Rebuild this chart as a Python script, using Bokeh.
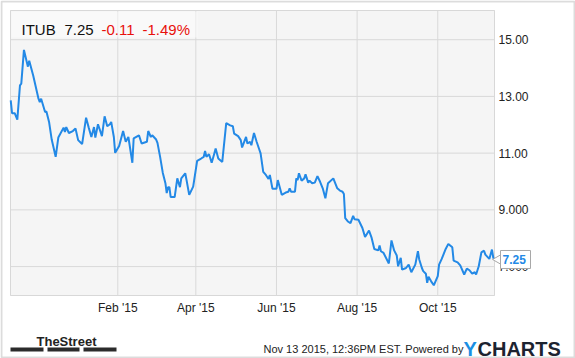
import math
import pandas as pd
from bokeh.plotting import figure
from bokeh.models import (Range1d, FixedTicker, Label, BoxAnnotation,
                          LinearAxis, DatetimeAxis)
from bokeh.core.properties import value
from bokeh.embed import file_html
from bokeh.resources import INLINE

# ---------------- data ----------------
dates = [
    "2014-11-12", "2014-11-13", "2014-11-15", "2014-11-17", "2014-11-19", "2014-11-20", "2014-11-22", "2014-11-25", "2014-11-26", "2014-11-29",
    "2014-12-03", "2014-12-04", "2014-12-05", "2014-12-08", "2014-12-09", "2014-12-11", "2014-12-13", "2014-12-16", "2014-12-18", "2014-12-22",
    "2014-12-23", "2014-12-24", "2014-12-26", "2014-12-29", "2014-12-31", "2015-01-02", "2015-01-05", "2015-01-08", "2015-01-10", "2015-01-12",
    "2015-01-14", "2015-01-15", "2015-01-17", "2015-01-20", "2015-01-22", "2015-01-24", "2015-01-26", "2015-01-27", "2015-01-29", "2015-01-30",
    "2015-02-02", "2015-02-05", "2015-02-07", "2015-02-09", "2015-02-12", "2015-02-13", "2015-02-17", "2015-02-19", "2015-02-23", "2015-02-24",
    "2015-02-26", "2015-02-27", "2015-03-02", "2015-03-03", "2015-03-05", "2015-03-07", "2015-03-09", "2015-03-10", "2015-03-11", "2015-03-12",
    "2015-03-13", "2015-03-16", "2015-03-18", "2015-03-20", "2015-03-21", "2015-03-24", "2015-03-25", "2015-03-27", "2015-03-30", "2015-04-02",
    "2015-04-05", "2015-04-07", "2015-04-08", "2015-04-09", "2015-04-11", "2015-04-13", "2015-04-15", "2015-04-16", "2015-04-18", "2015-04-21",
    "2015-04-24", "2015-04-27", "2015-04-29", "2015-04-30", "2015-05-03", "2015-05-05", "2015-05-06", "2015-05-09", "2015-05-10", "2015-05-12",
    "2015-05-13", "2015-05-15", "2015-05-17", "2015-05-19", "2015-05-20", "2015-05-22", "2015-05-24", "2015-05-26", "2015-05-27", "2015-05-29",
    "2015-06-01", "2015-06-02", "2015-06-05", "2015-06-08", "2015-06-10", "2015-06-11", "2015-06-12", "2015-06-15", "2015-06-16", "2015-06-17",
    "2015-06-18", "2015-06-20", "2015-06-22", "2015-06-23", "2015-06-25", "2015-06-26", "2015-06-28", "2015-06-30", "2015-07-02", "2015-07-04",
    "2015-07-06", "2015-07-08", "2015-07-10", "2015-07-14", "2015-07-17", "2015-07-19", "2015-07-21", "2015-07-22", "2015-07-23", "2015-07-25",
    "2015-07-27", "2015-07-29", "2015-07-30", "2015-08-02", "2015-08-05", "2015-08-07", "2015-08-10", "2015-08-12", "2015-08-14", "2015-08-17",
    "2015-08-18", "2015-08-19", "2015-08-21", "2015-08-25", "2015-08-27", "2015-08-29", "2015-08-31", "2015-09-01", "2015-09-03", "2015-09-04",
    "2015-09-07", "2015-09-09", "2015-09-11", "2015-09-14", "2015-09-16", "2015-09-17", "2015-09-19", "2015-09-20", "2015-09-22", "2015-09-23",
    "2015-09-24", "2015-09-26", "2015-09-28", "2015-10-01", "2015-10-02", "2015-10-04", "2015-10-07", "2015-10-09", "2015-10-12", "2015-10-13",
    "2015-10-16", "2015-10-18", "2015-10-21", "2015-10-23", "2015-10-25", "2015-10-27", "2015-10-29", "2015-10-30", "2015-11-01", "2015-11-03",
    "2015-11-05", "2015-11-06", "2015-11-09", "2015-11-11", "2015-11-12", "2015-11-13",
]
prices = [
    12.86, 12.41, 12.41, 12.18, 13.39, 13.45, 14.64, 14.05, 14.26, 13.74,
    12.92, 12.80, 12.92, 12.45, 12.47, 12.10, 11.48, 10.87, 11.55, 11.90,
    11.75, 11.92, 11.71, 11.78, 11.87, 11.46, 11.32, 12.25, 11.90, 11.57,
    11.92, 11.55, 12.02, 11.60, 12.30, 11.95, 12.02, 12.10, 11.57, 11.01,
    11.25, 11.78, 11.40, 11.57, 10.66, 11.52, 11.63, 11.34, 11.40, 11.78,
    11.57, 11.63, 11.48, 11.36, 10.87, 10.31, 9.94, 9.59, 9.80, 9.80,
    9.45, 9.45, 10.11, 9.80, 10.11, 10.29, 10.05, 9.53, 9.82, 10.73,
    10.81, 10.87, 11.08, 10.87, 10.96, 10.66, 10.99, 11.16, 10.81, 10.69,
    12.06, 11.98, 11.95, 11.69, 11.60, 11.46, 11.20, 11.57, 11.34, 11.40,
    11.28, 11.71, 11.40, 11.13, 10.99, 10.34, 10.23, 10.09, 10.23, 9.74,
    9.74, 10.05, 9.53, 9.61, 9.64, 9.76, 9.64, 9.64, 10.11, 10.05,
    10.29, 10.03, 10.11, 10.25, 9.96, 10.03, 9.94, 9.96, 10.19, 9.99,
    9.76, 9.41, 9.94, 10.11, 9.76, 9.68, 9.64, 9.56, 8.71, 8.59,
    8.53, 8.79, 8.67, 8.65, 8.36, 8.04, 8.27, 8.01, 7.62, 7.57,
    7.74, 7.54, 7.48, 7.11, 7.92, 7.57, 7.39, 7.01, 7.31, 6.89,
    6.95, 7.07, 6.80, 7.07, 7.54, 7.25, 6.95, 6.84, 6.75, 6.43,
    6.64, 6.48, 6.34, 6.66, 7.07, 7.27, 7.62, 7.80, 7.68, 7.21,
    7.15, 7.04, 6.72, 6.93, 6.87, 6.75, 6.80, 6.72, 7.01, 7.50,
    7.56, 7.42, 7.27, 7.60, 7.31, 7.25,
]
ticker_symbol = "ITUB"
last_price = 7.25
last_price_text = "7.25"
change_text = "-0.11"
change_pct_text = "-1.49%"
y_ticks = [7, 9, 11, 13, 15]
y_tick_labels = ["7.000", "9.000", "11.00", "13.00", "15.00"]
x_tick_dates = ["2015-02-01", "2015-04-01", "2015-06-01", "2015-08-01", "2015-10-01"]
x_tick_labels = ["Feb '15", "Apr '15", "Jun '15", "Aug '15", "Oct '15"]
x_start, x_end = "2014-11-11 20:00", "2015-11-12 22:00"
y_start, y_end = 5.98, 16.03
timestamp_text = "Nov 13 2015, 12:36PM EST. Powered by"
brand_left = "TheStreet"
brand_y = "Y"
brand_rest = "CHARTS"

# ---------------- layout constants ----------------
W, H = 575, 358
CL, CR, CT, CB = 10, 494, 10, 295   # chart area edges in canvas pixels
FONT = "Liberation Sans"
LINE_BLUE = "#2389e6"
RED = "#e8100c"
GRID = "#d9d9d9"
FRAME_GRAY = "#8c8c8c"
TAG_GRAY = "#a8a8a8"


def ms(s):
    return pd.Timestamp(s).value / 1e6


xs_ms, xe_ms = ms(x_start), ms(x_end)
x_per_px = (xe_ms - xs_ms) / (CR - CL)
y_per_px = (y_end - y_start) / (CB - CT)
full_x = (xs_ms - CL * x_per_px, xe_ms + (W - CR) * x_per_px)
full_y = (y_start - (H - CB) * y_per_px, y_end + CT * y_per_px)

x_vals = [ms(d) for d in dates]
x_tick_ms = [ms(d) for d in x_tick_dates]

p = figure(
    width=W, height=H, x_axis_type=None, y_axis_type=None,
    x_range=Range1d(*full_x), y_range=Range1d(*full_y),
    output_backend="svg", toolbar_location=None,
    min_border=0,
)
p.background_fill_color = "white"
p.border_fill_color = "white"
p.outline_line_color = None
p.grid.visible = False

# chart area background
p.add_layout(BoxAnnotation(left=xs_ms, right=xe_ms, bottom=y_start, top=y_end,
                           fill_color="#f5f5f5", fill_alpha=1.0,
                           line_color=None, level="underlay"))

# grid lines from the tick arrays
p.segment(x0=x_tick_ms, x1=x_tick_ms, y0=[y_start] * len(x_tick_ms), y1=[y_end] * len(x_tick_ms),
          line_color=GRID, line_width=1)
p.segment(x0=[xs_ms] * len(y_ticks), x1=[xe_ms] * len(y_ticks), y0=y_ticks, y1=y_ticks,
          line_color=GRID, line_width=1)

# chart area border
p.add_layout(BoxAnnotation(left=xs_ms, right=xe_ms, bottom=y_start, top=y_end,
                           fill_alpha=0.0, line_color=FRAME_GRAY, line_width=1,
                           level="underlay"))

# axes at fixed locations (labels only)
xaxis = DatetimeAxis(fixed_location=y_start)
xaxis.ticker = FixedTicker(ticks=x_tick_ms)
xaxis.major_label_overrides = dict(zip(x_tick_ms, x_tick_labels))
yaxis = LinearAxis(fixed_location=xe_ms)
yaxis.ticker = FixedTicker(ticks=y_ticks)
yaxis.major_label_overrides = dict(zip(y_ticks, y_tick_labels))
for ax in (xaxis, yaxis):
    ax.axis_line_color = None
    ax.major_tick_line_color = None
    ax.minor_tick_line_color = None
    ax.major_tick_in = 0
    ax.major_tick_out = 0
    ax.major_label_text_font = FONT
    ax.major_label_text_font_size = "12px"
    ax.major_label_text_color = "#222222"
xaxis.major_label_standoff = 5
yaxis.major_label_standoff = 4
p.add_layout(xaxis, "below")
p.add_layout(yaxis, "right")

# price line
p.line(x_vals, prices, line_color=LINE_BLUE, line_width=2)

# last price tag: pointer + box + text (overlay level, above the axis labels)
p.scatter(x=[xe_ms + 5 * x_per_px], y=[last_price], marker="triangle", angle=math.pi / 2,
          size=12, fill_color="white", line_color=TAG_GRAY, line_width=1, level="overlay")
p.quad(left=[xe_ms + 6 * x_per_px], right=[xe_ms + 36 * x_per_px],
       bottom=[last_price - 9 * y_per_px], top=[last_price + 9 * y_per_px],
       fill_color="white", line_color=TAG_GRAY, line_width=1, level="overlay")
p.text(x=[xe_ms + 8 * x_per_px], y=[last_price], text=[last_price_text],
       text_font=value(FONT), text_font_style="bold", text_font_size="12px",
       text_color=LINE_BLUE, text_baseline="middle", text_align="left", level="overlay")


def sx(cx):
    return cx


def sy(cy):
    return H - cy


def lab(text, cx, cy, size, color, bold=False, font=FONT, align="left"):
    p.add_layout(Label(
        x=sx(cx), y=sy(cy), x_units="screen", y_units="screen", text=text,
        text_font=font, text_font_size=f"{size}px", text_color=color,
        text_font_style="bold" if bold else "normal",
        text_align=align, text_baseline="alphabetic",
    ))


def sbox(l, r, t, b, **kw):
    p.add_layout(BoxAnnotation(left=sx(l), right=sx(r), top=sy(t), bottom=sy(b),
                               left_units="screen", right_units="screen",
                               top_units="screen", bottom_units="screen", **kw))


# header box
sbox(CL + 1, 197, CT + 1, 37, fill_color="white", fill_alpha=0.45, line_color=None)
lab(ticker_symbol, 21, 29, 15, "#111111")
lab(last_price_text, 64, 29, 15, "#111111")
lab(change_text, 101, 29, 15, RED)
lab(change_pct_text, 142, 29, 15, RED)

# footer
lab(brand_left, 36, 341, 13, "#222222", bold=True)
for bl, br in [(10, 43), (47, 79), (83, 116)]:
    sbox(bl, br, 347, 351, fill_color="#2b2b2b", fill_alpha=1.0, line_color=None)
lab(timestamp_text, 263, 348, 11, "#222222")
lab(brand_y, 463, 348, 20, "#1a8fe3", bold=True)
lab(brand_rest, 477, 348, 20, "#1c2330", bold=True)

# outer frame
sbox(1, 574, 1, 357, fill_alpha=0.0, line_color=FRAME_GRAY, line_width=2)

open("out.html", "w").write(file_html(p, INLINE))
